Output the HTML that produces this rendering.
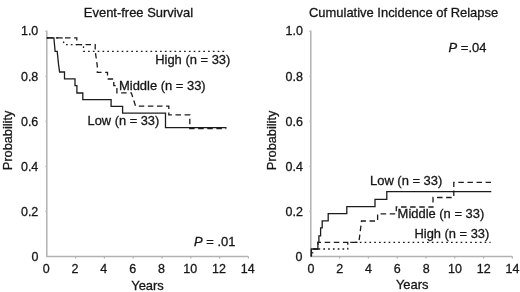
<!DOCTYPE html>
<html>
<head>
<meta charset="utf-8">
<title>Event-free Survival and Cumulative Incidence of Relapse</title>
<style>
html,body{margin:0;padding:0;background:#fff;}
body{width:520px;height:292px;overflow:hidden;}
svg{display:block;will-change:transform;}
text{font-family:"Liberation Sans",Arial,Helvetica,sans-serif;font-size:12px;fill:#161616;stroke:#161616;stroke-width:0.28px;}
.ax{stroke:#b2b2b2;stroke-width:1.5;fill:none;}
.tk{stroke:#c4c4c4;stroke-width:1;fill:none;}
.tx{stroke:#b0b0b0;stroke-width:1.2;fill:none;}
.ln{stroke:#1c1c1c;stroke-width:1.3;fill:none;stroke-linejoin:miter;}
.da{stroke:#1c1c1c;stroke-width:1.3;fill:none;stroke-dasharray:5.5 3.6;}
.do{stroke:#1c1c1c;stroke-width:1.3;fill:none;stroke-dasharray:1.7 3.1;}
</style>
</head>
<body>
<svg width="520" height="292" viewBox="0 0 520 292">
<rect width="520" height="292" fill="#fff"/>
<g id="left">
  <text transform="translate(138.5,16.5) scale(1.08,1)" text-anchor="middle">Event-free Survival</text>
  <text transform="translate(12.1,140.4) rotate(-90) scale(1.065,1)" text-anchor="middle">Probability</text>
  <path class="ax" d="M46.8,30.6 V256.6 H248.4"/>
  <path class="tk" d="M45.0,31.3 H46.8 M45.0,76.3 H46.8 M45.0,121.3 H46.8 M45.0,166.3 H46.8 M45.0,211.3 H46.8"/>
  <path class="tx" d="M75.6,256.6 V258.6 M104.4,256.6 V258.6 M133.2,256.6 V258.6 M162.0,256.6 V258.6 M190.8,256.6 V258.6 M219.6,256.6 V258.6 M248.4,256.6 V258.6"/>
  <text transform="translate(38.3,35.4) scale(1.04,1)" text-anchor="end">1.0</text>
  <text transform="translate(38.3,80.9) scale(1.04,1)" text-anchor="end">0.8</text>
  <text transform="translate(38.3,125.8) scale(1.04,1)" text-anchor="end">0.6</text>
  <text transform="translate(38.3,170.7) scale(1.04,1)" text-anchor="end">0.4</text>
  <text transform="translate(38.3,215.5) scale(1.04,1)" text-anchor="end">0.2</text>
  <text transform="translate(38.5,261.2) scale(1.04,1)" text-anchor="end">0</text>
  <text transform="translate(46.2,272.6) scale(1.04,1)" text-anchor="middle">0</text>
  <text transform="translate(75.0,272.6) scale(1.04,1)" text-anchor="middle">2</text>
  <text transform="translate(103.8,272.6) scale(1.04,1)" text-anchor="middle">4</text>
  <text transform="translate(132.6,272.6) scale(1.04,1)" text-anchor="middle">6</text>
  <text transform="translate(161.4,272.6) scale(1.04,1)" text-anchor="middle">8</text>
  <text transform="translate(190.2,272.6) scale(1.04,1)" text-anchor="middle">10</text>
  <text transform="translate(219.0,272.6) scale(1.04,1)" text-anchor="middle">12</text>
  <text transform="translate(247.8,272.6) scale(1.04,1)" text-anchor="middle">14</text>
  <text transform="translate(147.5,289.6) scale(1.08,1)" text-anchor="middle">Years</text>
  <path class="do" d="M46.8,37.8 H62 L64.5,44.6 H83.5 V51.4 H226.5"/>
  <path class="da" d="M46.8,37.8 H76.8 V44.6 H95.2 V51 L97.3,66 V72.4 H107.5 V79 H113.8 V85.6 H116.9 V92.8 H131.3 L135.6,106.1 H168.8 V114.9 H189.8 V128.6 H226.3"/>
  <path class="ln" d="M46.8,37.8 H53.9 L55.1,51.4 H57.2 L58.6,64.9 L59.6,72 H64.5 V78.9 H75 V85.6 H76.9 V93 H82.8 V99.6 H111.1 V106.4 H122.6 V113.2 H165.5 V127.6 H226.5"/>
  <text transform="translate(155.2,64.1) scale(1.08,1)">High (n = 33)</text>
  <text transform="translate(119.0,89.8) scale(1.08,1)">Middle (n = 33)</text>
  <text transform="translate(87.6,124.6) scale(1.07,1)">Low (n = 33)</text>
  <text transform="translate(194.0,245.8) scale(1.08,1)"><tspan font-style="italic">P</tspan> = .01</text>
</g>
<g id="right">
  <text transform="translate(403.6,16.5) scale(1.08,1)" text-anchor="middle">Cumulative Incidence of Relapse</text>
  <text transform="translate(276.1,140.4) rotate(-90) scale(1.065,1)" text-anchor="middle">Probability</text>
  <path class="ax" d="M310.8,30.6 V256.6 H512.4"/>
  <path class="tk" d="M309.0,31.3 H310.8 M309.0,76.3 H310.8 M309.0,121.3 H310.8 M309.0,166.3 H310.8 M309.0,211.3 H310.8"/>
  <path class="tx" d="M339.6,256.6 V258.6 M368.4,256.6 V258.6 M397.2,256.6 V258.6 M426.0,256.6 V258.6 M454.8,256.6 V258.6 M483.6,256.6 V258.6 M512.4,256.6 V258.6"/>
  <text transform="translate(302.9,35.4) scale(1.04,1)" text-anchor="end">1.0</text>
  <text transform="translate(302.9,80.9) scale(1.04,1)" text-anchor="end">0.8</text>
  <text transform="translate(302.9,125.8) scale(1.04,1)" text-anchor="end">0.6</text>
  <text transform="translate(302.9,170.7) scale(1.04,1)" text-anchor="end">0.4</text>
  <text transform="translate(302.9,215.5) scale(1.04,1)" text-anchor="end">0.2</text>
  <text transform="translate(302.5,261.2) scale(1.04,1)" text-anchor="end">0</text>
  <text transform="translate(310.9,272.6) scale(1.04,1)" text-anchor="middle">0</text>
  <text transform="translate(339.7,272.6) scale(1.04,1)" text-anchor="middle">2</text>
  <text transform="translate(368.5,272.6) scale(1.04,1)" text-anchor="middle">4</text>
  <text transform="translate(397.3,272.6) scale(1.04,1)" text-anchor="middle">6</text>
  <text transform="translate(426.1,272.6) scale(1.04,1)" text-anchor="middle">8</text>
  <text transform="translate(454.9,272.6) scale(1.04,1)" text-anchor="middle">10</text>
  <text transform="translate(483.7,272.6) scale(1.04,1)" text-anchor="middle">12</text>
  <text transform="translate(512.5,272.6) scale(1.04,1)" text-anchor="middle">14</text>
  <text transform="translate(412.2,288.8) scale(1.08,1)" text-anchor="middle">Years</text>
  <path class="do" d="M311.4,256.3 V249 H347.8 V242.3 H490.6"/>
  <path class="ln" d="M311.4,252.8 h1.9"/>
  <path class="da" d="M311.4,256.3 V249 H318 V242.3 H358.9 L361.5,221 H377.6 V213.9 H396.3 V207 H433 V197.5 H453.8 V182.4 H491"/>
  <path class="ln" d="M311.4,256.6 V249 H317.9 V242.4 H318.9 V235.8 H320.6 V227.8 H322.2 V220.9 H328.2 V213.7 H346.8 V206.6 H375 V199.3 H386.8 V191.6 H491.3"/>
  <text transform="translate(370.0,185.2) scale(1.08,1)">Low (n = 33)</text>
  <text transform="translate(397.6,218) scale(1.08,1)">Middle (n = 33)</text>
  <text transform="translate(414.5,238.0) scale(1.075,1)">High (n = 33)</text>
  <text transform="translate(448.6,51.5) scale(1.08,1)"><tspan font-style="italic">P</tspan> =.04</text>
</g>
</svg>
</body>
</html>
